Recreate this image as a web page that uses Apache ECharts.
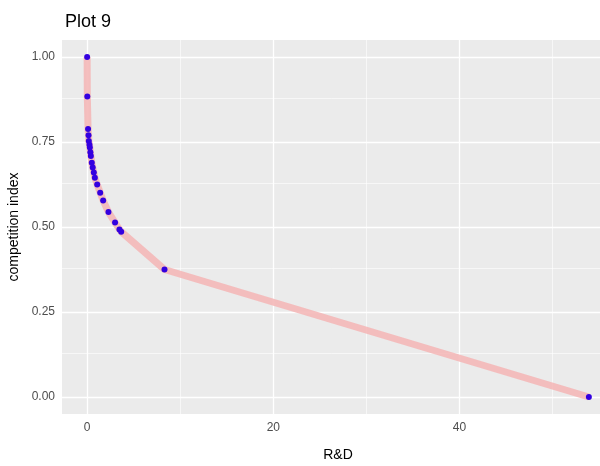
<!DOCTYPE html>
<html>
<head>
<meta charset="utf-8">
<script src="https://cdn.jsdelivr.net/npm/echarts@6/dist/echarts.min.js"></script>
<style>
  html, body { margin: 0; padding: 0; background: #fff; }
  #main { width: 600px; height: 466px; }
</style>
</head>
<body>
<div id="main"></div>
<script>
// data
var rd = [0, 0.02, 0.1, 0.15, 0.18, 0.25, 0.29, 0.35, 0.4, 0.5, 0.6, 0.72, 0.83, 1.08, 1.4, 1.72, 2.29, 3.0, 3.47, 3.66, 8.31, 53.9];
var compIndex = [1.0, 0.884, 0.788, 0.77, 0.753, 0.742, 0.734, 0.72, 0.709, 0.689, 0.675, 0.66, 0.645, 0.625, 0.601, 0.578, 0.544, 0.513, 0.493, 0.486, 0.375, 0.0];
var xTicks = [0, 20, 40];
var xMinor = [10, 30, 50];
var yTicks = [0, 0.25, 0.5, 0.75, 1.0];
var yMinor = [0.125, 0.375, 0.625, 0.875];

var font = '"Liberation Sans Narrow", "Liberation Sans", Arial, sans-serif';

var pts = rd.map(function (x, i) { return [x, compIndex[i]]; });

// 网格线用 markLine 画
var gridLines = [];
xTicks.forEach(function (v) { gridLines.push({ xAxis: v, lineStyle: { width: 1.3 } }); });
xMinor.forEach(function (v) { gridLines.push({ xAxis: v, lineStyle: { width: 0.6 } }); });
yTicks.forEach(function (v) { gridLines.push({ yAxis: v, lineStyle: { width: 1.3 } }); });
yMinor.forEach(function (v) { gridLines.push({ yAxis: v, lineStyle: { width: 0.6 } }); });

var chart = echarts.init(document.getElementById('main'));
var option = {
  backgroundColor: '#fff',
  animation: false,
  title: {
    text: 'Plot 9',
    left: 60,
    top: 8,
    textStyle: { color: '#000', fontSize: 18, fontWeight: 'normal', fontFamily: font }
  },
  grid: {
    left: 62, top: 40, width: 552, height: 374,
    outerBoundsMode: 'none',
    containLabel: false,
    show: true, backgroundColor: '#ebebeb', borderWidth: 0
  },
  xAxis: {
    type: 'value',
    min: -2.7, max: 56.6,
    name: 'R&D',
    nameLocation: 'middle',
    nameGap: 34,
    nameTextStyle: { color: '#000', fontSize: 14, fontFamily: font },
    axisLine: { show: false },
    axisTick: { show: true, customValues: xTicks, length: 4, lineStyle: { color: '#333' } },
    axisLabel: { customValues: xTicks, color: '#4d4d4d', fontSize: 12, fontFamily: font, margin: 8 },
    splitLine: { show: false }
  },
  yAxis: {
    type: 'value',
    min: -0.05, max: 1.05,
    name: 'competition index',
    nameLocation: 'middle',
    nameGap: 41,
    nameTextStyle: { color: '#000', fontSize: 14, fontFamily: font },
    axisLine: { show: false },
    axisTick: { show: true, customValues: yTicks, length: 4, lineStyle: { color: '#333' } },
    axisLabel: {
      customValues: yTicks, color: '#4d4d4d', fontSize: 12, fontFamily: font, margin: 7,
      formatter: function (v) { return v.toFixed(2); }
    },
    splitLine: { show: false }
  },
  series: [
    {
      type: 'line',
      data: [],
      silent: true,
      z: 1,
      markLine: {
        silent: true,
        z: 1,
        symbol: 'none',
        label: { show: false },
        lineStyle: { color: '#fff', type: 'solid' },
        data: gridLines
      }
    },
    {
      type: 'line',
      data: pts,
      showSymbol: false,
      symbol: 'none',
      lineStyle: { color: '#f4b8b8', width: 7, opacity: 0.9 },
      z: 2
    },
    {
      type: 'scatter',
      data: pts,
      symbolSize: 6,
      itemStyle: { color: '#3300e0', opacity: 1 },
      z: 3
    }
  ]
};
chart.setOption(option);
</script>
</body>
</html>
